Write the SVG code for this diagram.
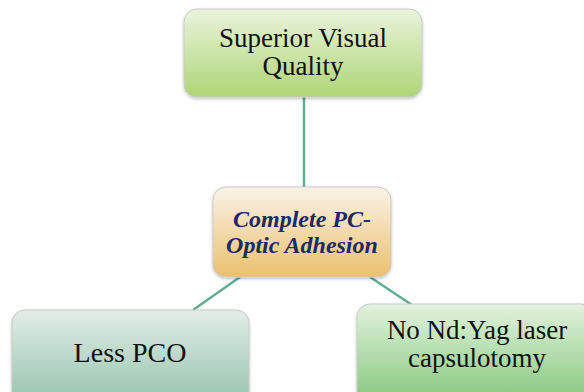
<svg xmlns="http://www.w3.org/2000/svg" width="584" height="392" viewBox="0 0 584 392">
  <style>
    .box { stroke: #c9c9c9; stroke-width: 1; filter: url(#shadow); }
    .lbl { font-family: "Liberation Serif", "Times New Roman", serif; font-size: 28px; fill: #111111; text-anchor: middle; }
    .two { font-size: 27px; }
    .hub { font-family: "Liberation Serif", "Times New Roman", serif; font-size: 24px; font-weight: bold; font-style: italic; fill: #1c2a66; text-anchor: middle; }
    .link { stroke: #5fae8f; stroke-width: 2.5; fill: none; }
  </style>
  <defs>
    <filter id="shadow" x="-10%" y="-10%" width="120%" height="130%">
      <feDropShadow dx="0" dy="1.5" stdDeviation="1.5" flood-color="#000" flood-opacity="0.25"/>
    </filter>
    <linearGradient id="gTop" x1="0" y1="0" x2="0" y2="1">
      <stop offset="0" stop-color="#eaf4dc"/>
      <stop offset="1" stop-color="#aed576"/>
    </linearGradient>
    <linearGradient id="gHub" x1="0" y1="0" x2="0" y2="1">
      <stop offset="0" stop-color="#fbf3e8"/>
      <stop offset="1" stop-color="#ebc06e"/>
    </linearGradient>
    <linearGradient id="gLeft" x1="0" y1="0" x2="0" y2="1">
      <stop offset="0" stop-color="#e2ede8"/>
      <stop offset="1" stop-color="#92c3ab"/>
    </linearGradient>
    <linearGradient id="gRight" x1="0" y1="0" x2="0" y2="1">
      <stop offset="0" stop-color="#e2f2dc"/>
      <stop offset="1" stop-color="#84c77c"/>
    </linearGradient>
  </defs>

  <rect width="584" height="392" fill="#ffffff"/>

  <!-- connectors -->
  <g id="connectors">
    <line class="link" x1="304" y1="97" x2="304" y2="187"/>
    <line class="link" x1="240" y1="277" x2="193" y2="310"/>
    <line class="link" x1="370" y1="277" x2="412" y2="305"/>
  </g>

  <g id="superior-visual-quality">
    <rect class="box" x="184" y="9" width="238" height="88" rx="13" fill="url(#gTop)"/>
    <text class="lbl two" x="303" y="47">Superior Visual</text>
    <text class="lbl two" x="303" y="75">Quality</text>
  </g>

  <g id="complete-pc-optic-adhesion">
    <rect class="box" x="213" y="187" width="178" height="90" rx="13" fill="url(#gHub)"/>
    <text class="hub" x="302" y="227">Complete PC-</text>
    <text class="hub" x="302" y="253">Optic Adhesion</text>
  </g>

  <g id="less-pco">
    <rect class="box" x="12" y="310" width="237" height="96" rx="13" fill="url(#gLeft)"/>
    <text class="lbl" x="130" y="362">Less PCO</text>
  </g>

  <g id="no-ndyag-capsulotomy">
    <rect class="box" x="357" y="304" width="237" height="100" rx="13" fill="url(#gRight)"/>
    <text class="lbl two" x="477" y="339">No Nd:Yag laser</text>
    <text class="lbl two" x="477" y="367">capsulotomy</text>
  </g>
</svg>
